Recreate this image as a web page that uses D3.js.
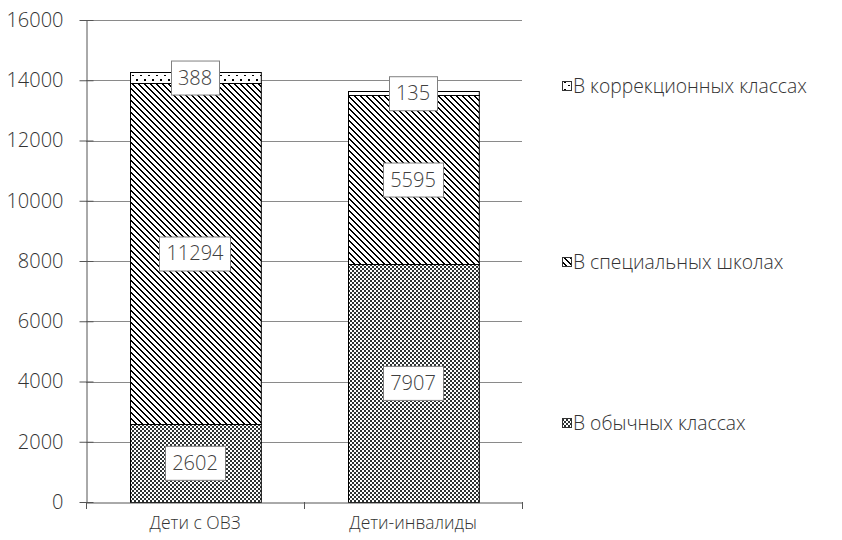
<!DOCTYPE html>
<html>
<head>
<meta charset="utf-8">
<script src="https://cdn.jsdelivr.net/npm/d3@7"></script>
<style>
  body { margin: 0; background: #fff; }
  text { font-family: "Open Sans", sans-serif; font-weight: 300; fill: #333; }
</style>
</head>
<body>
<div id="chart"></div>
<script>
var categories = ["Дети с ОВЗ", "Дети-инвалиды"];
var seriesNames = ["В обычных классах", "В специальных школах", "В коррекционных классах"];
var regularClasses = [2602, 7907];
var specialSchools = [11294, 5595];
var correctionClasses = [388, 135];
var yTicks = [0, 2000, 4000, 6000, 8000, 10000, 12000, 14000, 16000];

var width = 842, height = 540;
var margin = {top: 20, right: 320, bottom: 38, left: 86};
var plotW = width - margin.left - margin.right,
    plotH = height - margin.top - margin.bottom;

var svg = d3.select("#chart")
  .append("svg")
    .attr("width", width)
    .attr("height", height);

// fill patterns
var defs = svg.append("defs");

var pDots = defs.append("pattern")
    .attr("id", "p-dots")
    .attr("patternUnits", "userSpaceOnUse")
    .attr("width", 8).attr("height", 8);
pDots.append("rect").attr("width", 8).attr("height", 8).attr("fill", "#fff");
pDots.append("rect").attr("x", 2).attr("y", 3).attr("width", 2).attr("height", 2).attr("fill", "#000");
pDots.append("rect").attr("x", 6).attr("y", 7).attr("width", 2).attr("height", 1).attr("fill", "#000");

var hp = 6;
var pHatch = defs.append("pattern")
    .attr("id", "p-hatch")
    .attr("patternUnits", "userSpaceOnUse")
    .attr("width", hp).attr("height", hp);
pHatch.append("rect").attr("width", hp).attr("height", hp).attr("fill", "#fff");
for (var yy = 0; yy < hp; yy++) {
  for (var xx = 0; xx < hp; xx++) {
    var m = ((xx - yy) % hp + hp) % hp;
    if (m == 0 || m == 1)
      pHatch.append("rect").attr("x", xx).attr("y", yy).attr("width", 1).attr("height", 1).attr("fill", "#000");
  }
}

var pCheck = defs.append("pattern")
    .attr("id", "p-check")
    .attr("patternUnits", "userSpaceOnUse")
    .attr("width", 4).attr("height", 4);
pCheck.append("rect").attr("width", 4).attr("height", 4).attr("fill", "#fff");
pCheck.append("rect").attr("x", 0).attr("y", 0).attr("width", 2).attr("height", 2).attr("fill", "#2e3333");
pCheck.append("rect").attr("x", 2).attr("y", 2).attr("width", 2).attr("height", 2).attr("fill", "#2e3333");

var fills = ["url(#p-check)", "url(#p-hatch)", "url(#p-dots)"];

var g = svg.append("g")
    .attr("transform", "translate(" + margin.left + "," + margin.top + ")");

var x = d3.scaleBand().domain(categories).range([0, plotW]).padding(0);
var y = d3.scaleLinear().domain([0, 16000]).range([plotH, 0]);

// gridlines
g.append("g")
  .selectAll("line")
  .data(yTicks.slice(1))
  .enter()
  .append("line")
    .attr("x1", 0).attr("x2", plotW)
    .attr("y1", function(d) { return Math.round(y(d)) + 0.5; })
    .attr("y2", function(d) { return Math.round(y(d)) + 0.5; })
    .attr("stroke", "#8a8a8a")
    .attr("stroke-width", 1);

// stacked data
var rows = categories.map(function(c, i) {
  return {cat: c, s0: regularClasses[i], s1: specialSchools[i], s2: correctionClasses[i]};
});
var stack = d3.stack().keys(["s0", "s1", "s2"]);
var layers = stack(rows);

var barW = x.bandwidth() * 0.6;

layers.forEach(function(layer, li) {
  g.append("g")
    .selectAll("rect")
    .data(layer)
    .enter()
    .append("rect")
      .attr("x", function(d) { return Math.round(x(d.data.cat) + (x.bandwidth() - barW) / 2) + 0.5; })
      .attr("y", function(d) { return Math.round(y(d[1])) + 0.5; })
      .attr("width", barW)
      .attr("height", function(d) { return Math.round(y(d[0])) - Math.round(y(d[1])); })
      .attr("fill", fills[li])
      .attr("stroke", "#000")
      .attr("stroke-width", 1);
});

// data labels
layers.forEach(function(layer, li) {
  var lg = g.append("g")
    .selectAll("g")
    .data(layer)
    .enter()
    .append("g")
      .attr("transform", function(d) {
        return "translate(" + (x(d.data.cat) + x.bandwidth() / 2) + "," + y((d[0] + d[1]) / 2) + ")";
      });
  var t = lg.append("text")
      .attr("text-anchor", "middle")
      .attr("dy", "0.35em")
      .style("font-size", "20px")
      .style("fill", "#404040")
      .text(function(d) { return d[1] - d[0]; });
  lg.each(function() {
    var node = d3.select(this);
    var tw = node.select("text").node().getComputedTextLength();
    node.insert("rect", "text")
      .attr("x", Math.round(-tw / 2 - 7) + 0.5)
      .attr("y", -16.5)
      .attr("width", Math.round(tw + 14))
      .attr("height", 34)
      .attr("fill", "#fff")
      .attr("stroke", "#808080");
  });
});

// y axis
var yAxis = g.append("g")
    .attr("transform", "translate(0.5,0)")
    .call(d3.axisLeft(y).tickValues(yTicks).tickFormat(d3.format("d")).tickSize(7).tickSizeOuter(0).tickPadding(16));
yAxis.select(".domain").attr("stroke", "#555");
yAxis.selectAll(".tick line").attr("stroke", "#555").attr("x2", 7);
yAxis.selectAll(".tick line").attr("x1", -7);
yAxis.selectAll("text").style("font-size", "20px").style("font-family", "Open Sans").style("font-weight", 300).attr("fill", "#333");

// x axis
var xAxis = g.append("g")
    .attr("transform", "translate(0," + (plotH + 0.5) + ")")
    .call(d3.axisBottom(x).tickSize(0).tickPadding(14));
xAxis.select(".domain").attr("stroke", "#555");
xAxis.selectAll("text").style("font-size", "17.5px").style("font-family", "Open Sans").style("font-weight", 300).attr("fill", "#333");
// category separators
g.append("g")
  .selectAll("line")
  .data([0, 1, 2])
  .enter()
  .append("line")
    .attr("x1", function(d) { return Math.round(d * x.bandwidth()) + 0.5; })
    .attr("x2", function(d) { return Math.round(d * x.bandwidth()) + 0.5; })
    .attr("y1", plotH)
    .attr("y2", plotH + 7)
    .attr("stroke", "#555");

// legend
var legendY = [423, 262, 86];
var legend = svg.append("g")
  .selectAll("g")
  .data(seriesNames)
  .enter()
  .append("g")
    .attr("transform", function(d, i) { return "translate(562," + legendY[i] + ")"; });
legend.append("rect")
    .attr("x", 0.5).attr("y", -4.5)
    .attr("width", 9).attr("height", 9)
    .attr("fill", function(d, i) { return fills[i]; })
    .attr("stroke", "#333");
legend.append("text")
    .attr("x", 11)
    .attr("dy", "0.35em")
    .style("font-size", "19.3px")
    .text(function(d) { return d; });
</script>
</body>
</html>
